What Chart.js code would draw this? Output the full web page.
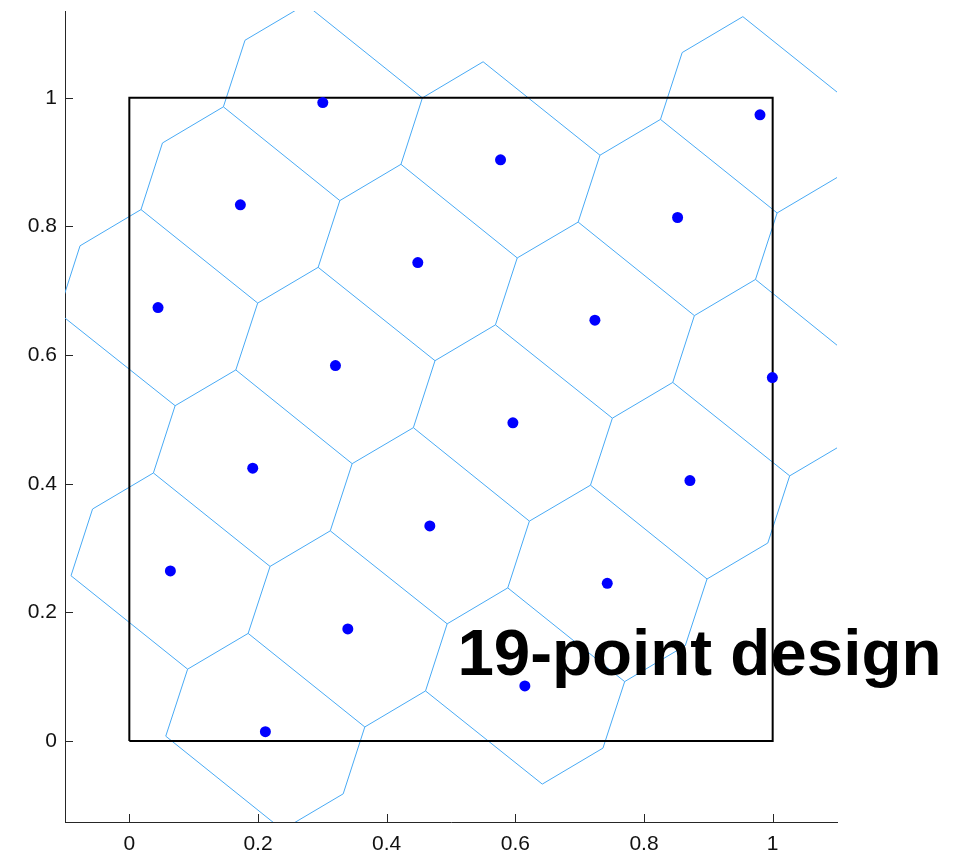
<!DOCTYPE html>
<html>
<head>
<meta charset="utf-8">
<script src="https://cdn.jsdelivr.net/npm/chart.js@4.4.0/dist/chart.umd.min.js"></script>
<style>
  html, body { margin: 0; padding: 0; background: #fff; }
  canvas { display: block; }
</style>
</head>
<body>
<canvas id="myChart" width="969" height="854"></canvas>
<script>
// design points
const pointX = [0.3007, 0.5770, 0.9803, 0.1726, 0.4484, 0.8522, 0.0446, 0.3204, 0.7237, 0.9995,
                0.5962, 0.1918, 0.8714, 0.4671, 0.0638, 0.7429, 0.3396, 0.6148, 0.2115];
const pointY = [0.9927, 0.9036, 0.9736, 0.8336, 0.7439, 0.8139, 0.6739, 0.5837, 0.6543, 0.5651,
                0.4946, 0.4241, 0.4048, 0.3344, 0.2644, 0.2452, 0.1742, 0.0855, 0.0145];

// steps between neighbouring dots (the design is a lattice; neighbours outside
// the box shape the cells of the points near the edges)
const latticeA = [0.1281, 0.1599];
const latticeB = [0.2757, -0.0895];

// unit square outline
const boxX = [0, 1, 1, 0, 0];
const boxY = [0, 0, 1, 1, 0];

const tickValues = [0, 0.2, 0.4, 0.6, 0.8, 1];
const tickLabels = ['0', '0.2', '0.4', '0.6', '0.8', '1'];
const xRange = [-0.1, 1.1];
const yRange = [-0.126, 1.135];

const titleText = '19-point design';
const titlePos = [0.51, 0.103];

const edgeColor = 'rgb(72,170,245)';
const axisColor = '#262626';
const fontFamily = '"Liberation Sans", Arial, Helvetica, sans-serif';

// keep the side nx*x + ny*y <= c
const clipPoly = (poly, nx, ny, c) => {
    const out = [];
    for (let i = 0; i < poly.length; i++) {
        const p = poly[i], q = poly[(i + 1) % poly.length];
        const dp = nx * p[0] + ny * p[1] - c;
        const dq = nx * q[0] + ny * q[1] - c;
        if (dp <= 0) out.push(p);
        if ((dp < 0 && dq > 0) || (dp > 0 && dq < 0)) {
            const t = dp / (dp - dq);
            out.push([p[0] + t * (q[0] - p[0]), p[1] + t * (q[1] - p[1])]);
        }
    }
    return out;
};

const buildSites = () => {
    const sites = pointX.map((x, k) => [x, pointY[k]]);
    const near = (x, y) => sites.some(s => Math.hypot(s[0] - x, s[1] - y) < 0.05);
    for (let i = -4; i <= 4; i++) {
        for (let j = -4; j <= 4; j++) {
            for (let k = 0; k < pointX.length; k++) {
                const x = pointX[k] + i * latticeA[0] + j * latticeB[0];
                const y = pointY[k] + i * latticeA[1] + j * latticeB[1];
                if (x < -0.6 || x > 1.6 || y < -0.6 || y > 1.6) continue;
                if (!near(x, y)) sites.push([x, y]);
            }
        }
    }
    return sites;
};

const close = (a, b) => Math.abs(a[0] - b[0]) < 1e-6 && Math.abs(a[1] - b[1]) < 1e-6;

// only the cells of the 19 design points are outlined
const voronoiEdges = (sites) => {
    const edges = [];
    for (let n = 0; n < pointX.length; n++) {
        const s = sites[n];
        let poly = [[s[0] - 0.5, s[1] - 0.5], [s[0] + 0.5, s[1] - 0.5],
                    [s[0] + 0.5, s[1] + 0.5], [s[0] - 0.5, s[1] + 0.5]];
        sites.forEach((t, m) => {
            if (m === n) return;
            const nx = t[0] - s[0], ny = t[1] - s[1];
            if (nx * nx + ny * ny > 0.36) return;
            const c = (t[0] * t[0] + t[1] * t[1] - s[0] * s[0] - s[1] * s[1]) / 2;
            poly = clipPoly(poly, nx, ny, c);
        });
        for (let i = 0; i < poly.length; i++) {
            const p = poly[i], q = poly[(i + 1) % poly.length];
            if (Math.hypot(q[0] - p[0], q[1] - p[1]) < 1e-6) continue;
            const dup = edges.some(e => (close(e[0], p) && close(e[1], q)) || (close(e[0], q) && close(e[1], p)));
            if (!dup) edges.push([p, q]);
        }
    }
    return edges;
};

const edges = voronoiEdges(buildSites());

const edgeSets = edges.map(e => ({
    data: [{x: e[0][0], y: e[0][1]}, {x: e[1][0], y: e[1][1]}],
    showLine: true,
    borderColor: edgeColor,
    borderWidth: 1,
    pointRadius: 0,
    order: 2
}));

const extras = {
    id: 'extras',
    afterDraw(chart) {
        const {ctx, chartArea} = chart;
        const x = chart.scales.x, y = chart.scales.y;
        ctx.save();
        ctx.strokeStyle = axisColor;
        ctx.lineWidth = 1;
        ctx.beginPath();
        tickValues.forEach(v => {
            const px = Math.round(x.getPixelForValue(v)) + 0.5;
            ctx.moveTo(px, chartArea.bottom);
            ctx.lineTo(px, chartArea.bottom - 8);
            const py = Math.round(y.getPixelForValue(v)) + 0.5;
            ctx.moveTo(chartArea.left, py);
            ctx.lineTo(chartArea.left + 8, py);
        });
        ctx.stroke();
        ctx.fillStyle = '#000';
        ctx.font = 'bold 65.5px ' + fontFamily;
        ctx.textBaseline = 'alphabetic';
        ctx.textAlign = 'left';
        ctx.fillText(titleText, x.getPixelForValue(titlePos[0]), y.getPixelForValue(titlePos[1]));
        ctx.restore();
    }
};

const ctx = document.getElementById('myChart').getContext('2d');
const myChart = new Chart(ctx, {
    type: 'scatter',
    data: {
        datasets: [
            {
                data: pointX.map((x, i) => ({x: x, y: pointY[i]})),
                backgroundColor: '#0000ff',
                borderWidth: 0,
                pointRadius: 5.5,
                order: 0
            },
            {
                data: boxX.map((x, i) => ({x: x, y: boxY[i]})),
                showLine: true,
                borderColor: '#000',
                borderWidth: 2,
                pointRadius: 0,
                order: 1
            },
            ...edgeSets
        ]
    },
    options: {
        responsive: false,
        animation: false,
        devicePixelRatio: 1,
        events: [],
        layout: { padding: { top: 11, right: 132, bottom: 0, left: 0 } },
        plugins: {
            legend: { display: false },
            tooltip: { enabled: false }
        },
        scales: {
            x: {
                min: xRange[0],
                max: xRange[1],
                grid: { display: false, drawTicks: false },
                border: { display: true, color: axisColor, width: 1 },
                afterBuildTicks: s => { s.ticks = tickValues.map(v => ({value: v})); },
                afterFit: s => { s.height = 32; s.paddingLeft = 0; s.paddingRight = 0; },
                ticks: {
                    autoSkip: false,
                    maxRotation: 0,
                    padding: 10,
                    color: '#111',
                    font: { family: fontFamily, size: 21 },
                    callback: (v, i) => tickLabels[i]
                }
            },
            y: {
                min: yRange[0],
                max: yRange[1],
                grid: { display: false, drawTicks: false },
                border: { display: true, color: axisColor, width: 1 },
                afterBuildTicks: s => { s.ticks = tickValues.map(v => ({value: v})); },
                afterFit: s => { s.width = 65; s.paddingTop = 0; s.paddingBottom = 0; },
                ticks: {
                    autoSkip: false,
                    padding: 8,
                    color: '#111',
                    font: { family: fontFamily, size: 21 },
                    callback: (v, i) => tickLabels[i]
                }
            }
        }
    },
    plugins: [extras]
});
</script>
</body>
</html>
